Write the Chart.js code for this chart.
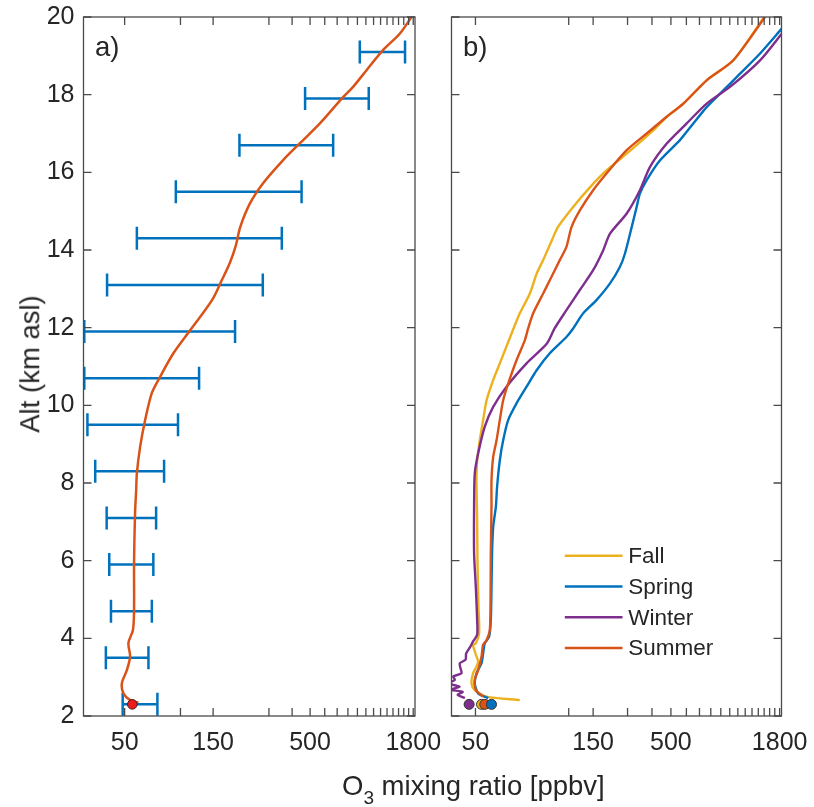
<!DOCTYPE html>
<html>
<head>
<meta charset="utf-8">
<title>O3 profiles</title>
<script src="https://cdn.jsdelivr.net/npm/chart.js@4.4.1/dist/chart.umd.min.js"></script>
<style>
  html, body { margin: 0; padding: 0; background: #fff; }
  #fig { position: relative; width: 814px; height: 807px; overflow: hidden;
         font-family: "Liberation Sans", Arial, Helvetica, sans-serif; color: #262626; }
  #fig canvas { position: absolute; left: 0; top: 0; }
  .ylab { position: absolute; left: 30px; top: 364px; line-height: 1; font-size: 27.5px;
          white-space: nowrap; transform: translate(-50%, -50%) rotate(-90deg); }
  .xlab { position: absolute; left: 342px; top: 772px; line-height: 1; font-size: 27.5px; white-space: nowrap; }
  .xlab sub { font-size: 19px; vertical-align: -9px; line-height: 0; }
</style>
</head>
<body>
<div id="fig">
  <canvas id="panelA" width="814" height="807"></canvas>
  <canvas id="panelB" width="814" height="807"></canvas>
  <div class="ylab">Alt (km asl)</div>
  <div class="xlab">O<sub>3</sub> mixing ratio [ppbv]</div>
</div>
<script>
// altitude axis (km asl)
const altTicks = [2, 4, 6, 8, 10, 12, 14, 16, 18, 20];

// x ticks of the two panels and the text printed under them
const xTicksA = [50, 100, 150, 300, 400, 500, 600, 700, 800, 900, 1000, 1100, 1200, 1300, 1400, 1500, 1600, 1700, 1800];
const xTickTextA = ['50', '', '150', '', '', '500', '', '', '', '', '', '', '', '', '', '', '', '', '1800'];
const xTicksB = [50, 150, 200, 300, 400, 500, 600, 700, 800, 900, 1000, 1100, 1200, 1300, 1400, 1500, 1600, 1700, 1800];
const xTickTextB = ['50', '', '150', '', '', '500', '', '', '', '', '', '', '', '', '', '', '', '', '1800'];

// panel a: mean profile
const altA = [2.34, 2.41, 2.58, 2.84, 3.18, 3.53, 3.88, 4.21, 4.73, 5.94, 7.23, 7.82, 8.25, 8.93, 9.62, 10.31, 10.73,
  11.34, 11.94, 12.71, 13.22, 13.68, 14.12, 14.59, 15.20, 15.72, 16.31, 16.75, 17.26, 17.93, 18.20, 18.63, 19.14, 19.57, 20.0];
const o3A = [59.3, 53.5, 49.3, 48.3, 51.4, 53.5, 52.4, 55.4, 56.2, 56.2, 56.9, 57.7, 58.2, 60.6, 64.5, 70.0, 77.6,
  91.6, 113, 148, 167, 185, 199, 210, 237, 279, 357, 441, 565, 751, 853, 1008, 1233, 1522, 1761];

// panel a: spread per 1.2 km layer
const errAlt = [2.3, 3.5, 4.7, 5.9, 7.1, 8.3, 9.5, 10.7, 11.9, 13.1, 14.3, 15.5, 16.7, 17.9, 19.1];
const errLow = [48.8, 39.6, 42.2, 41.3, 40.0, 34.7, 31.5, 30.3, 30.3, 40.2, 58.2, 94.4, 208, 470, 927];
const errHigh = [75.1, 67.2, 70.1, 71.4, 73.9, 81.6, 97, 126, 197, 278, 352, 450, 666, 1036, 1626];

// surface values
const surfAlt = 2.3;
const surfO3A = 55;
const seasons = ['Fall', 'Spring', 'Winter', 'Summer'];
const surfO3B = [53.7, 60.4, 46.4, 55.8];

// panel b: seasonal profiles
const fallAlt = [2.41, 2.50, 2.67, 2.84, 3.10, 3.27, 3.40, 3.61, 3.83, 3.87, 4.13, 4.81, 6.00, 7.03, 8.06, 8.58, 9.10, 9.61,
  10.13, 10.65, 11.08, 11.85, 12.37, 12.88, 13.40, 13.74, 14.25, 14.59, 15.11, 15.62, 16.05, 16.48, 17.08, 17.43, 17.77,
  18.37, 18.885, 20.0];
const fallO3 = [84.3, 57.0, 49.6, 47.7, 48.6, 50.6, 51.6, 50.0, 48.6, 50.2, 52.2, 51.8, 51.2, 51.0, 50.6, 51.0, 52.6, 54.7,
  57.0, 61.6, 66.6, 76.5, 84.3, 94.9, 103, 111, 123, 132, 158, 193, 234, 297, 406, 476, 579,
  762, 1043, 1500];

const springAlt = [2.46, 2.58, 2.84, 3.10, 3.36, 3.61, 3.87, 4.04, 4.47, 5.33, 6.19, 6.87, 7.39, 7.90, 8.58, 9.10, 9.62,
  10.05, 10.48, 10.91, 11.34, 11.76, 11.98, 12.37, 12.71, 13.14, 13.56, 13.91, 14.59, 15.11, 15.45, 15.80, 16.31, 16.83,
  17.26, 17.68, 18.11, 18.54, 19.06, 19.70, 20.0];
const springO3 = [58.1, 51.6, 49.6, 50.6, 53.7, 54.7, 55.8, 58.7, 59.9, 60.4, 60.8, 61.6, 63.6, 64.5, 66.6, 69.3, 73.5,
  81.1, 91.3, 103, 120, 146, 158, 178, 208, 244, 274, 291, 315, 334, 347, 376, 440, 556,
  651, 762, 927, 1129, 1429, 1845, 2078];

const winterAlt = [2.46, 2.55, 2.62, 2.68, 2.75, 2.84, 2.93, 3.02, 3.10, 3.25, 3.36, 3.45, 3.61, 3.78, 3.92, 4.09, 4.47,
  5.33, 6.19, 7.39, 8.25, 8.76, 9.45, 9.96, 10.48, 11.08, 11.59, 11.98, 12.45, 12.97, 13.48, 13.99, 14.42, 14.94, 15.54,
  16.14, 16.74, 17.26, 17.77, 18.20, 18.885, 19.57, 20.0];
const winterO3 = [44.1, 40.5, 43.0, 37.0, 41.5, 36.5, 39.2, 38.5, 42.4, 41.8, 41.6, 44.5, 44.8, 47.0, 48.6, 51.0, 51.0,
  50.2, 49.2, 49.2, 49.6, 51.6, 55.8, 61.6, 72.1, 91.3, 116, 127, 146, 171, 200, 225, 244, 297, 347,
  391, 476, 602, 762, 1003, 1429, 1845, 2164];

const summerAlt = [2.50, 2.67, 2.93, 3.18, 3.53, 3.83, 3.95, 4.21, 4.90, 6.19, 7.39, 8.07, 8.67, 9.10, 9.62, 10.13, 10.56,
  11.16, 11.68, 11.98, 12.37, 12.88, 13.22, 13.74, 14.08, 14.59, 15.02, 15.54, 15.97, 16.57, 17.0, 17.43, 17.77, 18.37,
  18.885, 20.0];
const summerO3 = [54.7, 50.2, 49.6, 51.6, 53.7, 54.7, 57.0, 59.2, 59.7, 59.9, 60.4, 60.4, 61.6, 64.1, 66.6, 69.3, 73.5,
  81.1, 89.5, 93.0, 98.7, 111, 120, 135, 146, 155, 171, 200, 234, 297, 376, 476, 579, 762,
  1043, 1515];

const FONT = '"Liberation Sans", Arial, Helvetica, sans-serif';
const INK = '#262626';
const AXIS_COLOR = '#4a4a4a';
const TICK_LEN = 8;
const X_MAX = 1840;
const BLUE = '#0072BD', ORANGE = '#D95319', YELLOW = '#EDB120', PURPLE = '#7E2F8E';
const seasonColors = [YELLOW, BLUE, PURPLE, ORANGE];

Chart.defaults.font.family = FONT;
Chart.defaults.color = INK;
Chart.defaults.animation = false;
Chart.defaults.events = [];
Chart.defaults.plugins.legend.display = false;
Chart.defaults.plugins.tooltip.enabled = false;

const toPoints = (xs, ys) => xs.map((x, i) => ({ x, y: ys[i] }));

// box with inward ticks on all four sides, plus the panel letter
const framePlugin = {
  id: 'frame',
  afterDraw(chart, args, opts) {
    const { ctx, chartArea: a, scales: { x, y } } = chart;
    ctx.save();
    ctx.strokeStyle = AXIS_COLOR;
    ctx.lineWidth = 1.3;
    ctx.strokeRect(a.left, a.top, a.right - a.left, a.bottom - a.top);
    ctx.beginPath();
    for (const v of opts.xTicks) {
      const px = x.getPixelForValue(v);
      ctx.moveTo(px, a.bottom); ctx.lineTo(px, a.bottom - TICK_LEN);
      ctx.moveTo(px, a.top); ctx.lineTo(px, a.top + TICK_LEN);
    }
    for (const v of altTicks) {
      const py = y.getPixelForValue(v);
      ctx.moveTo(a.left, py); ctx.lineTo(a.left + TICK_LEN, py);
      ctx.moveTo(a.right, py); ctx.lineTo(a.right - TICK_LEN, py);
    }
    ctx.stroke();
    ctx.fillStyle = INK;
    ctx.font = `27.5px ${FONT}`;
    ctx.textBaseline = 'alphabetic';
    ctx.fillText(opts.letter, a.left + 11.5, a.top + 39);
    ctx.restore();
  },
};

// season legend in the lower right of panel b
const seasonLegend = {
  id: 'seasonLegend',
  afterDraw(chart) {
    const { ctx, chartArea: a } = chart;
    const items = chart.data.datasets.filter(d => d.inLegend);
    ctx.save();
    ctx.font = `22.5px ${FONT}`;
    ctx.textBaseline = 'middle';
    ctx.fillStyle = INK;
    items.forEach((d, i) => {
      const yy = a.bottom - 160.3 + i * 30.8;
      ctx.strokeStyle = d.borderColor;
      ctx.lineWidth = 2.5;
      ctx.beginPath();
      ctx.moveTo(a.right - 216.7, yy);
      ctx.lineTo(a.right - 159, yy);
      ctx.stroke();
      ctx.fillText(d.label, a.right - 153.3, yy + 1);
    });
    ctx.restore();
  },
};

function buildScales(xMin, xTicks, xTickText, showAlt) {
  return {
    x: {
      type: 'logarithmic',
      min: xMin,
      max: X_MAX,
      afterBuildTicks: s => { s.ticks = xTicks.map(value => ({ value })); },
      afterFit: s => { s.height = 60; s.paddingLeft = 0; s.paddingRight = 0; },
      grid: { display: false, drawTicks: false },
      border: { display: false },
      ticks: {
        autoSkip: false, maxRotation: 0, padding: 12, color: INK, font: { size: 25 },
        callback: (v, i) => xTickText[i],
      },
    },
    y: {
      type: 'linear',
      min: 2,
      max: 20,
      afterBuildTicks: s => { s.ticks = altTicks.map(value => ({ value })); },
      afterFit: s => { s.width = showAlt ? 83.5 : 0; s.paddingTop = 0; s.paddingBottom = 0; },
      grid: { display: false, drawTicks: false },
      border: { display: false },
      ticks: { display: showAlt, padding: 9, color: INK, font: { size: 25 } },
    },
  };
}

// panel a
const errorBars = errAlt.map((alt, i) => ({
  data: [{ x: errLow[i], y: alt }, { x: errHigh[i], y: alt }],
  borderColor: BLUE,
  borderWidth: 2.5,
  pointStyle: 'line',
  pointRotation: 90,
  pointRadius: 11.5,
  pointBorderWidth: 2.5,
  pointBorderColor: BLUE,
  order: 3,
}));

new Chart(document.getElementById('panelA'), {
  type: 'line',
  data: {
    datasets: [
      ...errorBars,
      { data: toPoints(o3A, altA), borderColor: ORANGE, borderWidth: 2.5, pointRadius: 0, tension: 0.3, order: 2 },
      {
        data: [{ x: surfO3A, y: surfAlt }], showLine: false, pointRadius: 4.8,
        pointBackgroundColor: '#f01c1c', pointBorderColor: '#3a2020', pointBorderWidth: 1, order: 1,
      },
    ],
  },
  options: {
    responsive: false,
    layout: { padding: { left: 0, right: 399, top: 17, bottom: 31 } },
    scales: buildScales(30, xTicksA, xTickTextA, true),
    plugins: { frame: { xTicks: xTicksA, letter: 'a)' } },
  },
  plugins: [framePlugin],
});

// panel b
const seasonProfiles = [[fallO3, fallAlt], [springO3, springAlt], [winterO3, winterAlt], [summerO3, summerAlt]];
const seasonLines = seasons.map((name, i) => ({
  label: name,
  inLegend: true,
  data: toPoints(...seasonProfiles[i]),
  borderColor: seasonColors[i],
  borderWidth: 2.4,
  pointRadius: 0,
  tension: 0.25,
  order: 8 - i,
}));
const dotOrder = [3, 1, 4, 2];
const seasonDots = seasons.map((name, i) => ({
  data: [{ x: surfO3B[i], y: surfAlt }],
  showLine: false,
  pointRadius: 5,
  pointBackgroundColor: seasonColors[i],
  pointBorderColor: '#333333',
  pointBorderWidth: 1,
  order: dotOrder[i],
}));

new Chart(document.getElementById('panelB'), {
  type: 'line',
  data: { datasets: [...seasonLines, ...seasonDots] },
  options: {
    responsive: false,
    layout: { padding: { left: 451.5, right: 32.5, top: 17, bottom: 31 } },
    scales: buildScales(37.7, xTicksB, xTickTextB, false),
    plugins: { frame: { xTicks: xTicksB, letter: 'b)' } },
  },
  plugins: [framePlugin, seasonLegend],
});
</script>
</body>
</html>
